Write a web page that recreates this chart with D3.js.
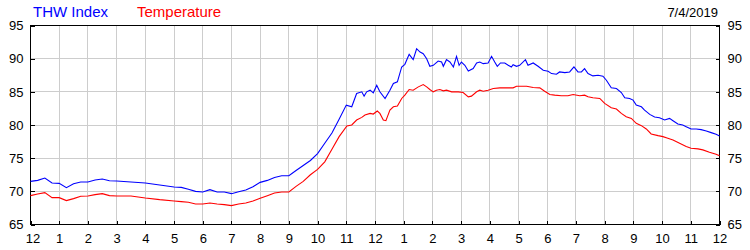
<!DOCTYPE html>
<meta charset="utf-8">

<style>
  body { margin: 0; background: #fff; }
  svg text { font-family: "Liberation Sans", Arial, sans-serif; }
  .grid line { stroke: #cdcdcd; stroke-width: 1px; shape-rendering: crispEdges; }
  .frame { fill: none; stroke: #000; stroke-width: 1px; shape-rendering: crispEdges; }
  .ticks line { stroke: #000; shape-rendering: crispEdges; }
</style>

<svg width="750" height="250"></svg>

<script src="https://d3js.org/d3.v7.min.js"></script>
<script>
// ====================================================================
// readings, [hour of day, degrees F]
const thw = [
  [0, 71.5], [0.25, 71.65], [0.5, 72.0], [0.75, 71.25], [1, 71.2], [1.25, 70.55],
  [1.5, 71.15], [1.75, 71.4], [2, 71.4], [2.25, 71.7], [2.5, 71.85], [2.75, 71.6],
  [3, 71.55], [3.5, 71.4], [4, 71.25], [4.5, 70.95], [5, 70.65], [5.25, 70.6],
  [5.5, 70.3], [5.75, 70.0], [6, 69.9], [6.25, 70.25], [6.5, 69.9], [6.75, 69.9],
  [7, 69.65], [7.25, 69.95], [7.5, 70.2], [7.75, 70.7], [8, 71.35], [8.25, 71.65],
  [8.5, 72.1], [8.75, 72.35], [9, 72.35], [9.25, 73.15], [9.5, 73.9], [9.75, 74.65],
  [10, 75.7], [10.25, 77.25], [10.5, 78.8], [10.75, 80.85], [11.0, 83.0], [11.19, 82.75],
  [11.36, 84.75], [11.54, 85.0], [11.62, 84.35], [11.71, 85.0], [11.83, 85.25], [11.94, 84.85],
  [12.06, 86.0], [12.17, 85.0], [12.35, 84.0], [12.52, 85.25], [12.64, 86.25], [12.78, 86.5],
  [12.93, 88.75], [13.04, 89.15], [13.19, 90.65], [13.33, 89.85], [13.45, 91.5], [13.57, 91.0],
  [13.68, 90.75], [13.8, 90.0], [13.91, 88.85], [14.03, 89.0], [14.2, 89.65], [14.32, 89.5],
  [14.38, 88.85], [14.49, 89.85], [14.61, 89.5], [14.73, 88.75], [14.84, 90.35], [14.93, 89.0],
  [15.01, 89.5], [15.13, 89.0], [15.25, 88.15], [15.42, 88.5], [15.54, 89.35], [15.65, 89.5],
  [15.77, 89.25], [15.94, 89.35], [16.06, 90.35], [16.17, 89.5], [16.26, 88.85], [16.37, 89.35],
  [16.52, 89.35], [16.64, 89.0], [16.75, 88.75], [16.81, 89.1], [16.93, 88.85], [17.04, 89.0],
  [17.24, 89.85], [17.33, 89.0], [17.51, 89.35], [17.68, 88.85], [17.86, 88.25], [18.03, 88.1],
  [18.15, 87.75], [18.32, 87.65], [18.43, 88.0], [18.61, 87.9], [18.78, 88.0], [18.93, 88.75],
  [19.07, 88.0], [19.19, 88.0], [19.3, 88.5], [19.42, 87.75], [19.59, 87.4], [19.77, 87.5],
  [19.94, 87.35], [20.06, 86.75], [20.23, 85.6], [20.41, 85.5], [20.58, 84.9], [20.7, 84.1],
  [20.87, 84.0], [20.99, 83.75], [21.1, 83.0], [21.28, 82.75], [21.39, 82.25], [21.57, 81.6],
  [21.74, 81.2], [21.91, 81.1], [22.09, 80.75], [22.26, 81.0], [22.38, 80.65], [22.55, 80.15],
  [22.72, 80.0], [22.84, 79.75], [23.01, 79.4], [23.19, 79.4], [23.36, 79.3], [23.54, 79.1],
  [23.71, 78.85], [23.88, 78.6], [24, 78.35]
]

const temperature = [
  [0, 69.35], [0.25, 69.6], [0.5, 69.8], [0.75, 69.05], [1, 69.05], [1.25, 68.6],
  [1.5, 68.9], [1.75, 69.25], [2, 69.3], [2.25, 69.5], [2.5, 69.65], [2.75, 69.35],
  [3, 69.3], [3.5, 69.3], [4, 69.0], [4.5, 68.75], [5, 68.55], [5.25, 68.45],
  [5.5, 68.35], [5.75, 68.1], [6, 68.1], [6.25, 68.25], [6.5, 68.1], [6.75, 68.0],
  [7, 67.85], [7.25, 68.1], [7.5, 68.25], [7.75, 68.55], [8, 68.95], [8.25, 69.35],
  [8.5, 69.75], [8.75, 69.9], [9, 69.9], [9.25, 70.75], [9.5, 71.5], [9.75, 72.5],
  [10, 73.3], [10.25, 74.45], [10.5, 76.35], [10.75, 78.25], [11.02, 79.85], [11.19, 80.0],
  [11.36, 80.75], [11.54, 81.15], [11.65, 81.5], [11.83, 81.75], [11.94, 81.65], [12.08, 82.1],
  [12.17, 81.75], [12.29, 80.75], [12.38, 80.65], [12.52, 82.25], [12.64, 82.75], [12.78, 82.85],
  [12.93, 84.0], [13.04, 84.5], [13.19, 85.35], [13.33, 85.25], [13.51, 85.75], [13.68, 86.1],
  [13.8, 85.75], [13.91, 85.35], [14.03, 85.0], [14.14, 85.25], [14.26, 85.35], [14.38, 85.15],
  [14.49, 85.25], [14.67, 85.0], [14.9, 85.0], [15.07, 84.9], [15.25, 84.25], [15.36, 84.35],
  [15.54, 85.0], [15.65, 85.25], [15.77, 85.1], [15.94, 85.25], [16.12, 85.5], [16.35, 85.6],
  [16.58, 85.6], [16.81, 85.6], [16.93, 85.85], [17.28, 85.85], [17.51, 85.65], [17.74, 85.6],
  [17.91, 85.1], [18.09, 84.6], [18.26, 84.5], [18.49, 84.4], [18.72, 84.4], [18.9, 84.6],
  [19.13, 84.4], [19.3, 84.5], [19.42, 84.25], [19.59, 84.1], [19.83, 84.0], [20.0, 83.25],
  [20.23, 82.6], [20.41, 82.4], [20.58, 81.75], [20.75, 81.25], [20.93, 81.0], [21.1, 80.25],
  [21.28, 79.9], [21.45, 79.4], [21.62, 78.65], [21.86, 78.4], [22.03, 78.25], [22.2, 78.0],
  [22.38, 77.75], [22.61, 77.25], [22.84, 76.75], [23.01, 76.5], [23.25, 76.4], [23.42, 76.25],
  [23.65, 75.9], [23.88, 75.6], [24, 75.35]
]

const hourTicks = d3.range(0, 25)
const hourLabels = ["12", "1", "2", "3", "4", "5", "6", "7", "8", "9", "10", "11",
                    "12", "1", "2", "3", "4", "5", "6", "7", "8", "9", "10", "11", "12"]
const valueTicks = [65, 70, 75, 80, 85, 90, 95]
const seriesNames = ["THW Index", "Temperature"]
const seriesColors = ["#0000ff", "#ff0000"]
const dateLabel = "7/4/2019"

// ====================================================================
const svg = d3.select("svg")
const plotLeft = 30.5, plotRight = 719.5, plotTop = 25.5, plotBottom = 224.5

const x = d3.scaleLinear().domain([0, 24]).range([plotLeft, plotRight])
const y = d3.scaleLinear().domain([65, 95]).range([plotBottom, plotTop])

//gridlines
const grid = svg.append("g").attr("class", "grid")
grid.selectAll("line.v")
    .data(hourTicks.slice(1, -1))
    .enter().append("line")
    .attr("class", "v")
    .attr("x1", d => x(d)).attr("x2", d => x(d))
    .attr("y1", plotTop).attr("y2", plotBottom)
grid.selectAll("line.h")
    .data(valueTicks.slice(1, -1))
    .enter().append("line")
    .attr("class", "h")
    .attr("x1", plotLeft).attr("x2", plotRight)
    .attr("y1", d => y(d)).attr("y2", d => y(d))

//axes: short ticks pointing in, labels outside
const xAxis = d3.axisBottom(x)
    .tickValues(hourTicks)
    .tickSize(-4)
    .tickPadding(9)
    .tickFormat((d, i) => hourLabels[i])
const gx = svg.append("g")
    .attr("class", "ticks")
    .attr("transform", `translate(0,${plotBottom})`)
    .call(xAxis)
gx.select(".domain").remove()
gx.selectAll("text").filter((d, i) => i === 0).attr("dx", 2)

const yLeft = d3.axisLeft(y).tickValues(valueTicks).tickSize(-4).tickPadding(7)
const gyl = svg.append("g").attr("class", "ticks").attr("transform", `translate(${plotLeft},0)`).call(yLeft)
gyl.select(".domain").remove()

const yRight = d3.axisRight(y).tickValues(valueTicks).tickSize(-4).tickPadding(8)
const gyr = svg.append("g").attr("class", "ticks").attr("transform", `translate(${plotRight},0)`).call(yRight)
gyr.select(".domain").remove()

svg.selectAll(".ticks text").attr("font-size", 13).attr("fill", "#000")
svg.selectAll(".ticks").attr("font-family", null).attr("font-size", null)

//frame
svg.append("rect")
    .attr("class", "frame")
    .attr("x", plotLeft).attr("y", plotTop)
    .attr("width", plotRight - plotLeft).attr("height", plotBottom - plotTop)

//series lines
const line = d3.line()
    .x(d => x(d[0]))
    .y(d => y(d[1]))

svg.append("path")
    .datum(temperature)
    .attr("fill", "none")
    .attr("stroke", seriesColors[1])
    .attr("stroke-width", 1.1)
    .attr("d", line)

svg.append("path")
    .datum(thw)
    .attr("fill", "none")
    .attr("stroke", seriesColors[0])
    .attr("stroke-width", 1.1)
    .attr("d", line)

//legend and date
svg.append("text")
    .attr("x", 33).attr("y", 17)
    .attr("font-size", 15)
    .attr("fill", seriesColors[0])
    .text(seriesNames[0])
svg.append("text")
    .attr("x", 137).attr("y", 17)
    .attr("font-size", 15)
    .attr("fill", seriesColors[1])
    .text(seriesNames[1])

svg.append("text")
    .attr("x", 718).attr("y", 17)
    .attr("font-size", 13)
    .attr("text-anchor", "end")
    .attr("fill", "#000")
    .text(dateLabel)
</script>
